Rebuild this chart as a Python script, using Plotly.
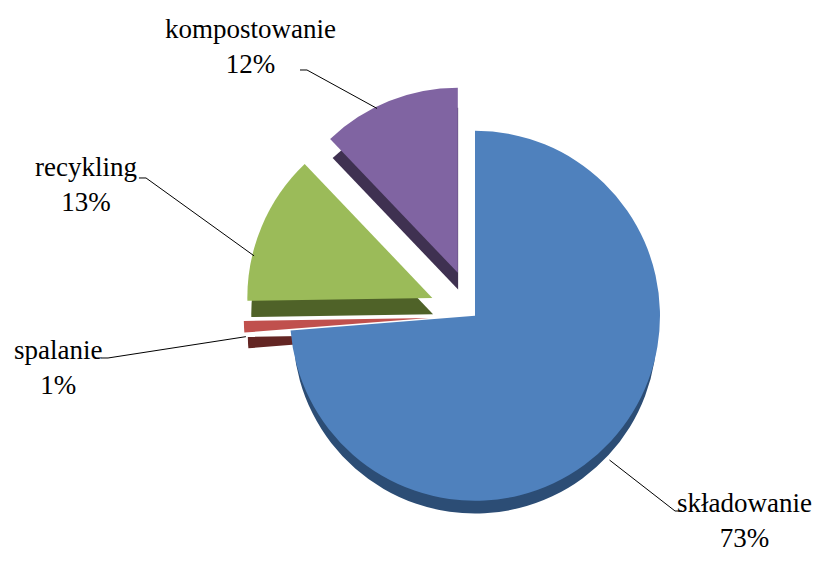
import math
import plotly.graph_objects as go

# waste handling shares (percent)
labels = ["składowanie", "spalanie", "recykling", "kompostowanie"]
values = [73, 1, 13, 12]
pulls = [0.0, 0.25, 0.25, 0.25]

top_colors = ["#4F81BD", "#C0504D", "#9BBB59", "#8064A2"]
side_colors = ["#2C4D75", "#632523", "#4F6228", "#3F3151"]

# the page body has an 8px margin, so the figure is a bit smaller than the window
PAD = 8
W, H = 826 - 2 * PAD, 567 - 2 * PAD
FONT = "Liberation Serif, Times New Roman, serif"

# pie geometry in window pixels
r = 185
half = r * (1 + max(pulls))
depth = 20
cx = 475
cy = 567 - depth - half    # centre of the top face

def to_paper(x, y):
    return (x - PAD) / W, 1 - (y - PAD) / H

fig = go.Figure()

x0, _ = to_paper(cx - half, 0)
x1, _ = to_paper(cx + half, 0)
for dy, colors, is_top in [(depth, side_colors, False), (0, top_colors, True)]:
    _, ytop = to_paper(0, cy + dy - half)
    _, ybot = to_paper(0, cy + dy + half)
    fig.add_trace(go.Pie(
        labels=labels, values=values, pull=pulls,
        sort=False, direction="clockwise", rotation=0,
        marker=dict(colors=colors, line=dict(width=0)),
        textinfo="none", hoverinfo="label+percent" if is_top else "skip",
        showlegend=False,
        domain=dict(x=[x0, x1], y=[max(ybot, 0), min(ytop, 1)]),
    ))

# label centre and the elbow where the leader line starts (window px)
label_pos = {
    "składowanie": ((744, 520), (675, 511)),
    "spalanie": ((58, 367), (108, 358)),
    "recykling": ((86, 184), (146, 178)),
    "kompostowanie": ((250, 46), (307, 70)),
}
# where on the rim (fraction through the slice) the leader touches
rim_at = {"składowanie": 0.5, "spalanie": 0.5, "recykling": 0.3, "kompostowanie": 0.4}
rim_drop = {"składowanie": depth, "spalanie": depth * 0.5, "recykling": 0, "kompostowanie": 0}

total = sum(values)
start = 0.0
for lab, val, pull in zip(labels, values, pulls):
    frac = val / total
    ang = (start + frac * rim_at[lab]) * 2 * math.pi
    mid = (start + frac / 2) * 2 * math.pi
    start += frac
    ox = cx + r * pull * math.sin(mid)
    oy = cy - r * pull * math.cos(mid)
    tip_x = ox + r * 0.99 * math.sin(ang)
    tip_y = oy - r * 0.99 * math.cos(ang) + rim_drop[lab]
    (tx, ty), (ex, ey) = label_pos[lab]
    ax, ay = to_paper(tx, ty)
    fig.add_annotation(
        x=ax, y=ay, xref="paper", yref="paper", showarrow=False,
        xanchor="center", yanchor="middle",
        text=f"{lab}<br>{val}%", align="center",
        font=dict(family=FONT, size=27, color="black"),
    )
    side = 1 if ex > tx else -1
    pts = [(ex - 7 * side, ey), (ex, ey), (tip_x, tip_y)]
    pts = [to_paper(x, y) for x, y in pts]
    path = "M " + " L ".join(f"{x:.4f},{y:.4f}" for x, y in pts)
    fig.add_shape(type="path", path=path, xref="paper", yref="paper",
                  line=dict(color="black", width=1))

fig.update_layout(
    width=W, height=H,
    paper_bgcolor="white",
    margin=dict(l=0, r=0, t=0, b=0),
    font=dict(family=FONT, size=27, color="black"),
)

fig.write_html("out.html")
